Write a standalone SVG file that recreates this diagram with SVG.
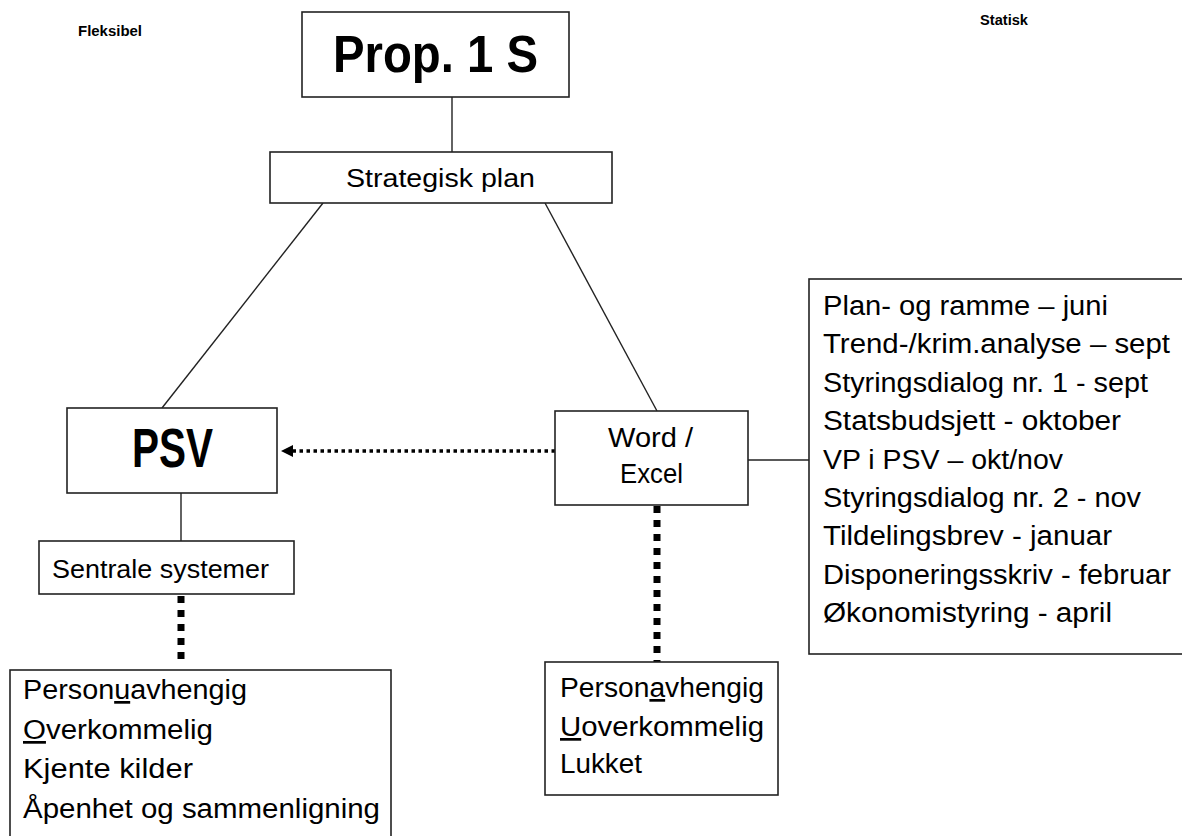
<svg xmlns="http://www.w3.org/2000/svg" width="1182" height="836" viewBox="0 0 1182 836">
<defs>
<style>
.box{fill:#fff;stroke:#222;stroke-width:1.6}
.t{font-family:"Liberation Sans",Arial,sans-serif;fill:#000}
.b{font-weight:bold}
.ln{stroke:#222;stroke-width:1.4;fill:none}
.dot{stroke:#000;stroke-width:3.5;stroke-dasharray:3.5 3.5;fill:none}
.thick{stroke:#000;stroke-width:7;stroke-dasharray:7 7;fill:none}
.u{text-decoration:underline}
</style>
</defs>
<rect width="1182" height="836" fill="#fff"/>
<g id="connectors">
<line class="ln" x1="452" y1="97" x2="452" y2="152"/>
<line class="ln" x1="323" y1="203" x2="162" y2="408"/>
<line class="ln" x1="545" y1="203" x2="657" y2="411"/>
<line class="dot" x1="555" y1="451" x2="293" y2="451"/>
<path d="M293,445 L281,451 L293,457 Z" fill="#000"/>
<line class="ln" x1="181" y1="493" x2="181" y2="541"/>
<line class="thick" x1="181" y1="596" x2="181" y2="666"/>
<line class="thick" x1="657" y1="506" x2="657" y2="662"/>
<line class="ln" x1="748" y1="460" x2="809" y2="460"/>
</g>
<g id="label-fleksibel"><text class="t b" x="78" y="36" font-size="14" textLength="64" lengthAdjust="spacingAndGlyphs">Fleksibel</text></g>
<g id="label-statisk"><text class="t b" x="980" y="25" font-size="14" textLength="48" lengthAdjust="spacingAndGlyphs">Statisk</text></g>
<g id="prop1s">
<rect class="box" x="302" y="12" width="267" height="85"/>
<text class="t b" x="333" y="72" font-size="51" textLength="205" lengthAdjust="spacingAndGlyphs">Prop. 1 S</text>
</g>
<g id="strategisk">
<rect class="box" x="270" y="152" width="342" height="51"/>
<text class="t" x="346" y="187" font-size="25" textLength="189" lengthAdjust="spacingAndGlyphs">Strategisk plan</text>
</g>
<g id="psv">
<rect class="box" x="67" y="408" width="210" height="85"/>
<text class="t b" x="132" y="467" font-size="55" textLength="81" lengthAdjust="spacingAndGlyphs">PSV</text>
</g>
<g id="wordexcel">
<rect class="box" x="555" y="411" width="193" height="94"/>
<text class="t" x="608" y="447" font-size="27" textLength="85" lengthAdjust="spacingAndGlyphs">Word /</text>
<text class="t" x="620" y="483" font-size="27" textLength="63" lengthAdjust="spacingAndGlyphs">Excel</text>
</g>
<g id="sentrale">
<rect class="box" x="39" y="541" width="255" height="53"/>
<text class="t" x="52" y="578" font-size="26" textLength="217" lengthAdjust="spacingAndGlyphs">Sentrale systemer</text>
</g>
<g id="kalender">
<rect class="box" x="809" y="279" width="380" height="375"/>
<g class="t" font-size="27">
<text x="823" y="315" textLength="285" lengthAdjust="spacingAndGlyphs">Plan- og ramme – juni</text>
<text x="823" y="353.4" textLength="347" lengthAdjust="spacingAndGlyphs">Trend-/krim.analyse – sept</text>
<text x="823" y="391.8" textLength="325" lengthAdjust="spacingAndGlyphs">Styringsdialog nr. 1 - sept</text>
<text x="823" y="430.2" textLength="298" lengthAdjust="spacingAndGlyphs">Statsbudsjett - oktober</text>
<text x="823" y="468.6" textLength="240" lengthAdjust="spacingAndGlyphs">VP i PSV – okt/nov</text>
<text x="823" y="507" textLength="318" lengthAdjust="spacingAndGlyphs">Styringsdialog nr. 2 - nov</text>
<text x="823" y="545.4" textLength="289" lengthAdjust="spacingAndGlyphs">Tildelingsbrev - januar</text>
<text x="823" y="583.8" textLength="348" lengthAdjust="spacingAndGlyphs">Disponeringsskriv - februar</text>
<text x="823" y="622.2" textLength="289" lengthAdjust="spacingAndGlyphs">Økonomistyring - april</text>
</g>
</g>
<g id="egenskaper-psv">
<rect class="box" x="10" y="670" width="381" height="170"/>
<g class="t" font-size="27">
<text x="23" y="699" textLength="224" lengthAdjust="spacingAndGlyphs">Person<tspan class="u">u</tspan>avhengig</text>
<text x="23" y="739" textLength="190" lengthAdjust="spacingAndGlyphs"><tspan class="u">O</tspan>verkommelig</text>
<text x="23" y="778" textLength="170" lengthAdjust="spacingAndGlyphs">Kjente kilder</text>
<text x="23" y="818" textLength="357" lengthAdjust="spacingAndGlyphs">Åpenhet og sammenligning</text>
</g>
</g>
<g id="egenskaper-word">
<rect class="box" x="545" y="662" width="233" height="133"/>
<g class="t" font-size="27">
<text x="560" y="697" textLength="204" lengthAdjust="spacingAndGlyphs">Person<tspan class="u">a</tspan>vhengig</text>
<text x="560" y="736" textLength="204" lengthAdjust="spacingAndGlyphs"><tspan class="u">U</tspan>overkommelig</text>
<text x="560" y="773" textLength="82" lengthAdjust="spacingAndGlyphs">Lukket</text>
</g>
</g>
</svg>
